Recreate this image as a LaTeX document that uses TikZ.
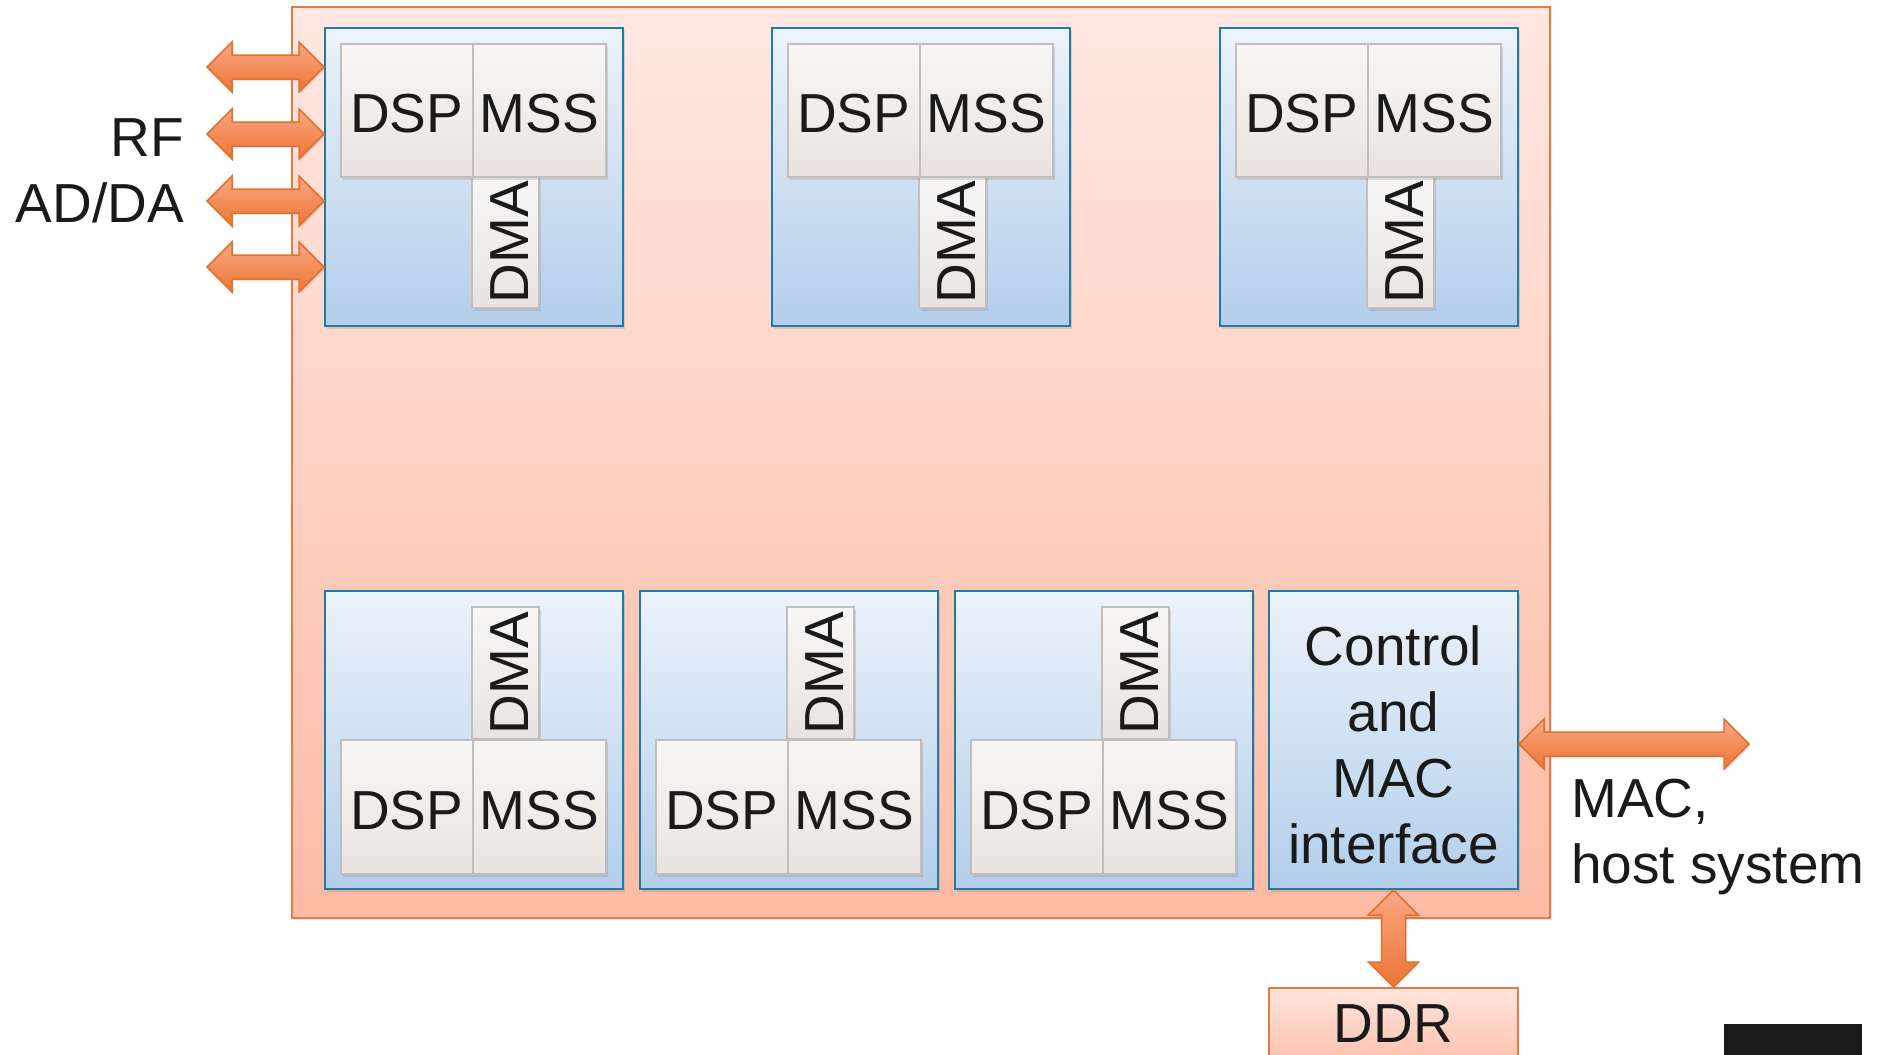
\documentclass[tikz,border=0pt]{standalone}
\usepackage{fontspec}
\setmainfont{Liberation Sans}
\usetikzlibrary{shadows,calc}
\definecolor{txt}{HTML}{1A1A1A}
\definecolor{chiptop}{HTML}{FFE8E2}
\definecolor{chipbot}{HTML}{FDBBA5}
\definecolor{orangeline}{HTML}{E67A45}
\definecolor{bluetop}{HTML}{ECF3FB}
\definecolor{bluebot}{HTML}{B3CEEA}
\definecolor{blueline}{HTML}{1F7BA3}
\definecolor{celltop}{HTML}{F8F7F6}
\definecolor{cellbot}{HTML}{E8E3E0}
\definecolor{cellline}{HTML}{C2BEBB}
\definecolor{arrtop}{HTML}{FAA883}
\definecolor{arrbot}{HTML}{EC7436}
\definecolor{arrline}{HTML}{E2702F}
\definecolor{ddrtop}{HTML}{FFE5DD}
\definecolor{ddrbot}{HTML}{FCC2AE}
\newcommand\dblarrowH[2]{%
  \path[arrowsty] let \p1=(#1), \p2=(#2) in
  (\x1,\y1) -- (\x1+25pt,\y1+25pt) -- (\x1+25pt,\y1+12pt) -- (\x2-25pt,\y1+12pt)
  -- (\x2-25pt,\y1+25pt) -- (\x2,\y1) -- (\x2-25pt,\y1-25pt) -- (\x2-25pt,\y1-12pt)
  -- (\x1+25pt,\y1-12pt) -- (\x1+25pt,\y1-25pt) -- cycle;}
\newcommand\dblarrowV[2]{%
  \path[arrowsty] let \p1=(#1), \p2=(#2) in
  (\x1,\y1) -- (\x1+25pt,\y1-25pt) -- (\x1+12pt,\y1-25pt) -- (\x1+12pt,\y2+25pt)
  -- (\x1+25pt,\y2+25pt) -- (\x1,\y2) -- (\x1-25pt,\y2+25pt) -- (\x1-12pt,\y2+25pt)
  -- (\x1-12pt,\y1-25pt) -- (\x1-25pt,\y1-25pt) -- cycle;}
\begin{document}
\begin{tikzpicture}[x=1pt,y=-1pt,
  font=\fontsize{55}{66}\selectfont, text=txt,
  chip/.style={draw=orangeline, line width=2pt, top color=chiptop, bottom color=chipbot,
    anchor=north west, inner sep=0pt,
    drop shadow={opacity=0.2, shadow xshift=2pt, shadow yshift=-2pt}},
  bluebox/.style={draw=blueline, line width=2pt, top color=bluetop, bottom color=bluebot,
    anchor=north west, inner sep=0pt, align=center,
    drop shadow={opacity=0.25, shadow xshift=2pt, shadow yshift=-3pt}},
  cell/.style={draw=cellline, line width=1.5pt, top color=celltop, bottom color=cellbot,
    inner sep=0pt, text height=45pt, text depth=0pt,
    drop shadow={opacity=0.25, shadow xshift=2pt, shadow yshift=-3pt}},
  ddrbox/.style={draw=orangeline, line width=2pt, top color=ddrtop, bottom color=ddrbot,
    anchor=north west, inner sep=0pt},
  arrowsty/.style={draw=arrline, line width=1.5pt, top color=arrtop, bottom color=arrbot,
    line join=miter,
    drop shadow={opacity=0.2, shadow xshift=1.5pt, shadow yshift=-2pt}},
  lbl/.style={inner sep=0pt}]
\useasboundingbox (0,0) rectangle (1883,1055);
\clip (0,0) rectangle (1883,1055);

% chip
\node[chip, minimum width=1258pt, minimum height=911pt] (chipbox) at (291,6) {};

% blue boxes
\foreach \nm/\xx/\yy in {tb1/324/27, tb2/771/27, tb3/1219/27, bb1/324/590, bb2/639/590, bb3/954/590}
  \node[bluebox, minimum width=298pt, minimum height=298pt] (\nm) at (\xx,\yy) {};
\node[bluebox, minimum width=249pt, minimum height=298pt] (ctrl) at (1268,590)
  {\rule{0pt}{49pt}Control\\and\\MAC\\interface};

% top cells
\foreach \i/\xx in {1/340, 2/787, 3/1235}{
  \node[cell, rotate=90, minimum width=132pt, minimum height=67pt] (tdma\i) at (\xx+165.5,242) {DMA};
  \node[cell, anchor=north west, minimum width=132pt, minimum height=133pt] (tdsp\i) at (\xx,43) {DSP};
  \node[cell, anchor=north west, minimum width=133pt, minimum height=133pt] (tmss\i) at (\xx+132,43) {MSS};
}
% bottom cells
\foreach \i/\xx in {1/340, 2/655, 3/970}{
  \node[cell, rotate=90, minimum width=132pt, minimum height=67pt] (bdma\i) at (\xx+165.5,673) {DMA};
  \node[cell, anchor=north west, minimum width=132pt, minimum height=134pt] (bdsp\i) at (\xx,739) {DSP};
  \node[cell, anchor=north west, minimum width=133pt, minimum height=134pt] (bmss\i) at (\xx+132,739) {MSS};
}

% DDR
\node[ddrbox, minimum width=249pt, minimum height=72pt] (ddr) at (1268,987) {DDR};
\fill[txt!95!black] (1724,1024) rectangle (1862,1080);

% arrows
\coordinate (rf1) at (207,67);
\coordinate (rf2) at (207,134);
\coordinate (rf3) at (207,201);
\coordinate (rf4) at (207,267);
\foreach \k in {1,2,3,4}{\dblarrowH{rf\k}{tb1.west |- rf\k}}
\coordinate (mac) at (1749,744);
\dblarrowH{ctrl.east |- mac}{mac}
\dblarrowV{ctrl.south}{ddr.north}

% labels
\node[lbl, align=right, anchor=north east] (rflbl) at (184,118) {RF\\AD/DA};
\node[lbl, align=left, anchor=north west] (maclbl) at (1571,779) {MAC,\\host system};
\end{tikzpicture}
\end{document}
